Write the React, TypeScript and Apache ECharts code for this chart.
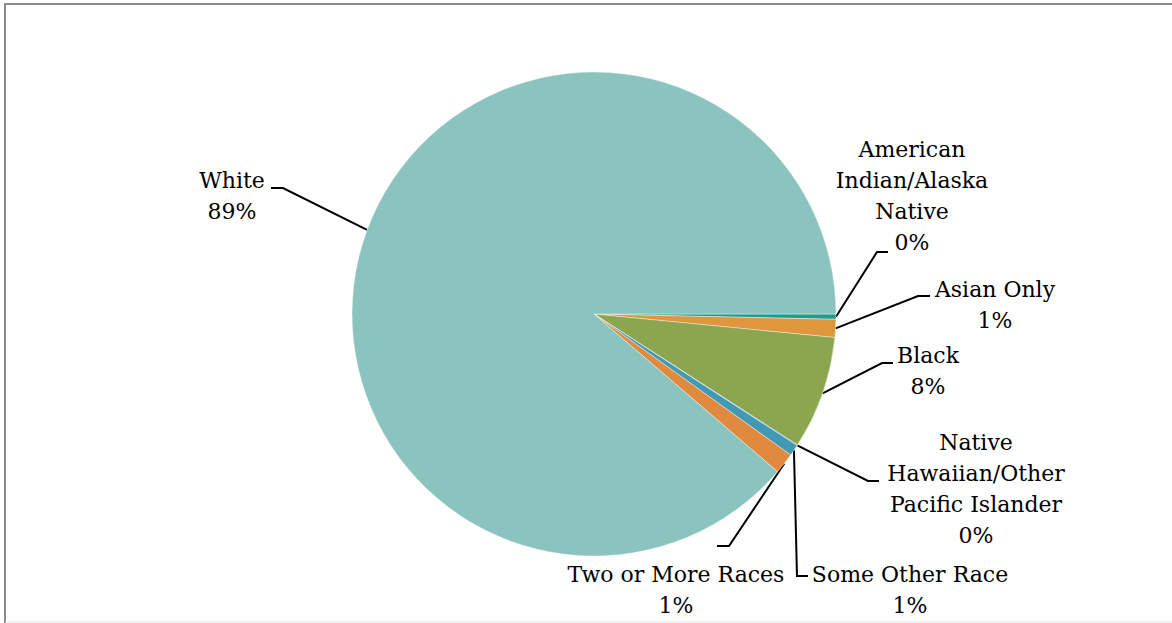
import React, { useEffect, useRef } from "react";
import * as echarts from "echarts";

const categories = [
  "American Indian/Alaska Native",
  "Asian Only",
  "Black",
  "Native Hawaiian/Other Pacific Islander",
  "Some Other Race",
  "Two or More Races",
  "White",
];
const labelNames = [
  "American\nIndian/Alaska\nNative",
  "Asian Only",
  "Black",
  "Native\nHawaiian/Other\nPacific Islander",
  "Some Other Race",
  "Two or More Races",
  "White",
];
const values = [0.35, 1.2, 7.55, 0.05, 0.75, 1.4, 88.7];
const colors = ["#1E9A8F", "#E0963C", "#8BA64F", "#3C8DBD", "#4398B3", "#DF8A3E", "#8BC4BE"];

// label layout (positions only)
const CX = 594;
const CY = 314;
const R = 242;
const labelLayoutPos = [
  { x: 912, y: 196, elbow: [877, 252], end: [888, 252] },
  { x: 995, y: 305, elbow: [918, 296], end: [930, 296] },
  { x: 928, y: 371, elbow: [882, 363], end: [893, 363] },
  { x: 976, y: 489, elbow: [868, 481], end: [879, 481] },
  { x: 910, y: 590, elbow: [797, 576], end: [808, 576] },
  { x: 676, y: 590, elbow: [729, 546], end: [717, 546] },
  { x: 232, y: 196, elbow: [283, 188], end: [271, 188] },
];

export default function App() {
  const ref = useRef<HTMLDivElement>(null);
  useEffect(() => {
    if (!ref.current) return;
    const chart = echarts.init(ref.current, null, { renderer: "svg" });
    const total = values.reduce((a, b) => a + b, 0);
    const cum: number[] = [];
    let acc = 0;
    values.forEach((v) => {
      cum.push(acc + v / 2);
      acc += v;
    });
    chart.setOption({
      animation: false,
      backgroundColor: "#ffffff",
      graphic: [
        { type: "line", shape: { x1: 4, y1: 4, x2: 1172, y2: 4 }, style: { stroke: "#8a8a8a", lineWidth: 2 } },
        { type: "line", shape: { x1: 5, y1: 4, x2: 5, y2: 623 }, style: { stroke: "#8a8a8a", lineWidth: 2 } },
        { type: "line", shape: { x1: 5, y1: 622, x2: 1172, y2: 622 }, style: { stroke: "#e3e3e3", lineWidth: 1 } },
      ],
      series: [
        {
          type: "pie",
          center: [CX, CY],
          radius: R,
          startAngle: 0,
          clockwise: true,
          avoidLabelOverlap: false,
          itemStyle: { borderColor: "#ffffff", borderWidth: 0.4 },
          data: categories.map((c, i) => ({
            name: c,
            value: values[i],
            itemStyle: { color: colors[i] },
          })),
          label: {
            show: true,
            position: "outside",
            color: "#000000",
            fontFamily: "DejaVu Serif",
            fontSize: 22,
            lineHeight: 31,
            align: "center",
            formatter: (p: any) =>
              labelNames[p.dataIndex] + "\n" + Math.round((values[p.dataIndex] / total) * 100) + "%",
          },
          labelLine: {
            show: true,
            lineStyle: { color: "#000000", width: 2 },
          },
          labelLayout: (params: any) => {
            const i = params.dataIndex;
            const L = labelLayoutPos[i];
            const ang = (cum[i] / total) * Math.PI * 2;
            let start = [CX + R * Math.cos(ang), CY + R * Math.sin(ang)];
            if (params.labelLinePoints && params.labelLinePoints[0]) start = params.labelLinePoints[0];
            return {
              x: L.x,
              y: L.y,
              align: "center",
              verticalAlign: "middle",
              labelLinePoints: [start, L.elbow, L.end],
            };
          },
        },
      ],
    });
    return () => chart.dispose();
  }, []);
  return (
    <div
      ref={ref}
      style={{ position: "fixed", left: 0, top: 0, width: 1172, height: 623 }}
    />
  );
}
